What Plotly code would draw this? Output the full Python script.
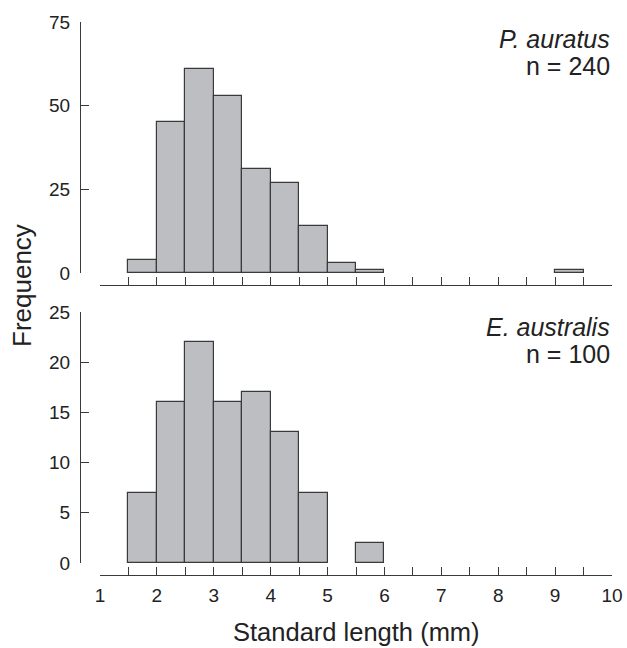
import plotly.graph_objects as go

# Data
bin_width = 0.5
top_bin_starts = [1.5, 2.0, 2.5, 3.0, 3.5, 4.0, 4.5, 5.0, 5.5, 9.0]
top_counts = [4, 45, 61, 53, 31, 27, 14, 3, 1, 1]
bot_bin_starts = [1.5, 2.0, 2.5, 3.0, 3.5, 4.0, 4.5, 5.5]
bot_counts = [7, 16, 22, 16, 17, 13, 7, 2]
top_label = ["<i>P. auratus</i>", "n = 240"]
bot_label = ["<i>E. australis</i>", "n = 100"]
x_ticks = [1, 2, 3, 4, 5, 6, 7, 8, 9, 10]
top_y_ticks = [0, 25, 50, 75]
bot_y_ticks = [0, 5, 10, 15, 20, 25]

FONT = "Liberation Sans, Arial, Helvetica, sans-serif"
LINE = "#3a3a3a"
FILL = "#bdbec2"
TXT = "#222222"

W, H = 627, 648
ml, mr, mt, mb = 80, 15, 22, 73
pw = W - ml - mr
ph = H - mt - mb

def fx(px):
    return (px - ml) / pw

def fy(py):
    return (H - mb - py) / ph

fig = go.Figure()
fig.add_trace(go.Bar(x=top_bin_starts, y=top_counts, width=bin_width, offset=0,
                     marker=dict(color=FILL, line=dict(color=LINE, width=1.2)),
                     xaxis="x", yaxis="y", showlegend=False))
fig.add_trace(go.Bar(x=bot_bin_starts, y=bot_counts, width=bin_width, offset=0,
                     marker=dict(color=FILL, line=dict(color=LINE, width=1.2)),
                     xaxis="x2", yaxis="y2", showlegend=False))

common_x = dict(range=[1, 10], domain=[fx(100), 1], anchor="free",
                showline=True, linecolor=LINE, linewidth=1.2,
                ticks="inside", ticklen=8, tickcolor=LINE, tickwidth=1.2,
                tickmode="linear", tick0=1, dtick=0.5,
                showgrid=False, zeroline=False, automargin=False)
common_y = dict(anchor="free", position=0, showline=True, linecolor=LINE, linewidth=1.2,
                ticks="inside", ticklen=8, tickcolor=LINE, tickwidth=1.2,
                showgrid=False, zeroline=False, automargin=False,
                ticklabelstandoff=6,
                tickfont=dict(family=FONT, size=19, color=TXT))

fig.update_layout(
    width=W, height=H,
    margin=dict(l=ml, r=mr, t=mt, b=mb, autoexpand=False),
    paper_bgcolor="white", plot_bgcolor="white",
    bargap=0,
    font=dict(family=FONT, color=TXT),
    xaxis=dict(**common_x, position=fy(285), showticklabels=False),
    xaxis2=dict(**common_x, position=0, showticklabels=False),
    yaxis=dict(**common_y, domain=[fy(273), 1], range=[0, 75],
               tickvals=top_y_ticks),
    yaxis2=dict(**common_y, domain=[fy(563), fy(312)], range=[0, 25],
                tickvals=bot_y_ticks),
)
# overlay axis for the bottom x tick labels (integers only)
fig.update_layout(xaxis3=dict(range=[1, 10], domain=[fx(100), 1], anchor="free",
                              position=0, overlaying="x2", showline=False,
                              ticks="", tickvals=x_ticks, showgrid=False, zeroline=False,
                              automargin=False, ticklabelstandoff=7,
                              tickfont=dict(family=FONT, size=19, color=TXT)))
fig.add_trace(go.Scatter(x=[], y=[], xaxis="x3", yaxis="y2", showlegend=False))

def label(text, py, size=25):
    return dict(text=text, x=1, y=fy(py), xref="paper", yref="paper",
                xanchor="right", yanchor="middle", showarrow=False,
                font=dict(family=FONT, size=size, color=TXT))

ann = [
    label(top_label[0], 39),
    label(top_label[1], 66),
    label(bot_label[0], 327),
    label(bot_label[1], 354),
    dict(text="Frequency", x=fx(22), y=fy(286), xref="paper", yref="paper",
         xanchor="center", yanchor="middle", textangle=-90, showarrow=False,
         font=dict(family=FONT, size=26, color=TXT)),
    dict(text="Standard length (mm)", x=fx(356), y=fy(632), xref="paper", yref="paper",
         xanchor="center", yanchor="middle", showarrow=False,
         font=dict(family=FONT, size=25.5, color=TXT)),
]
fig.update_layout(annotations=ann)

fig.write_html("out.html")
